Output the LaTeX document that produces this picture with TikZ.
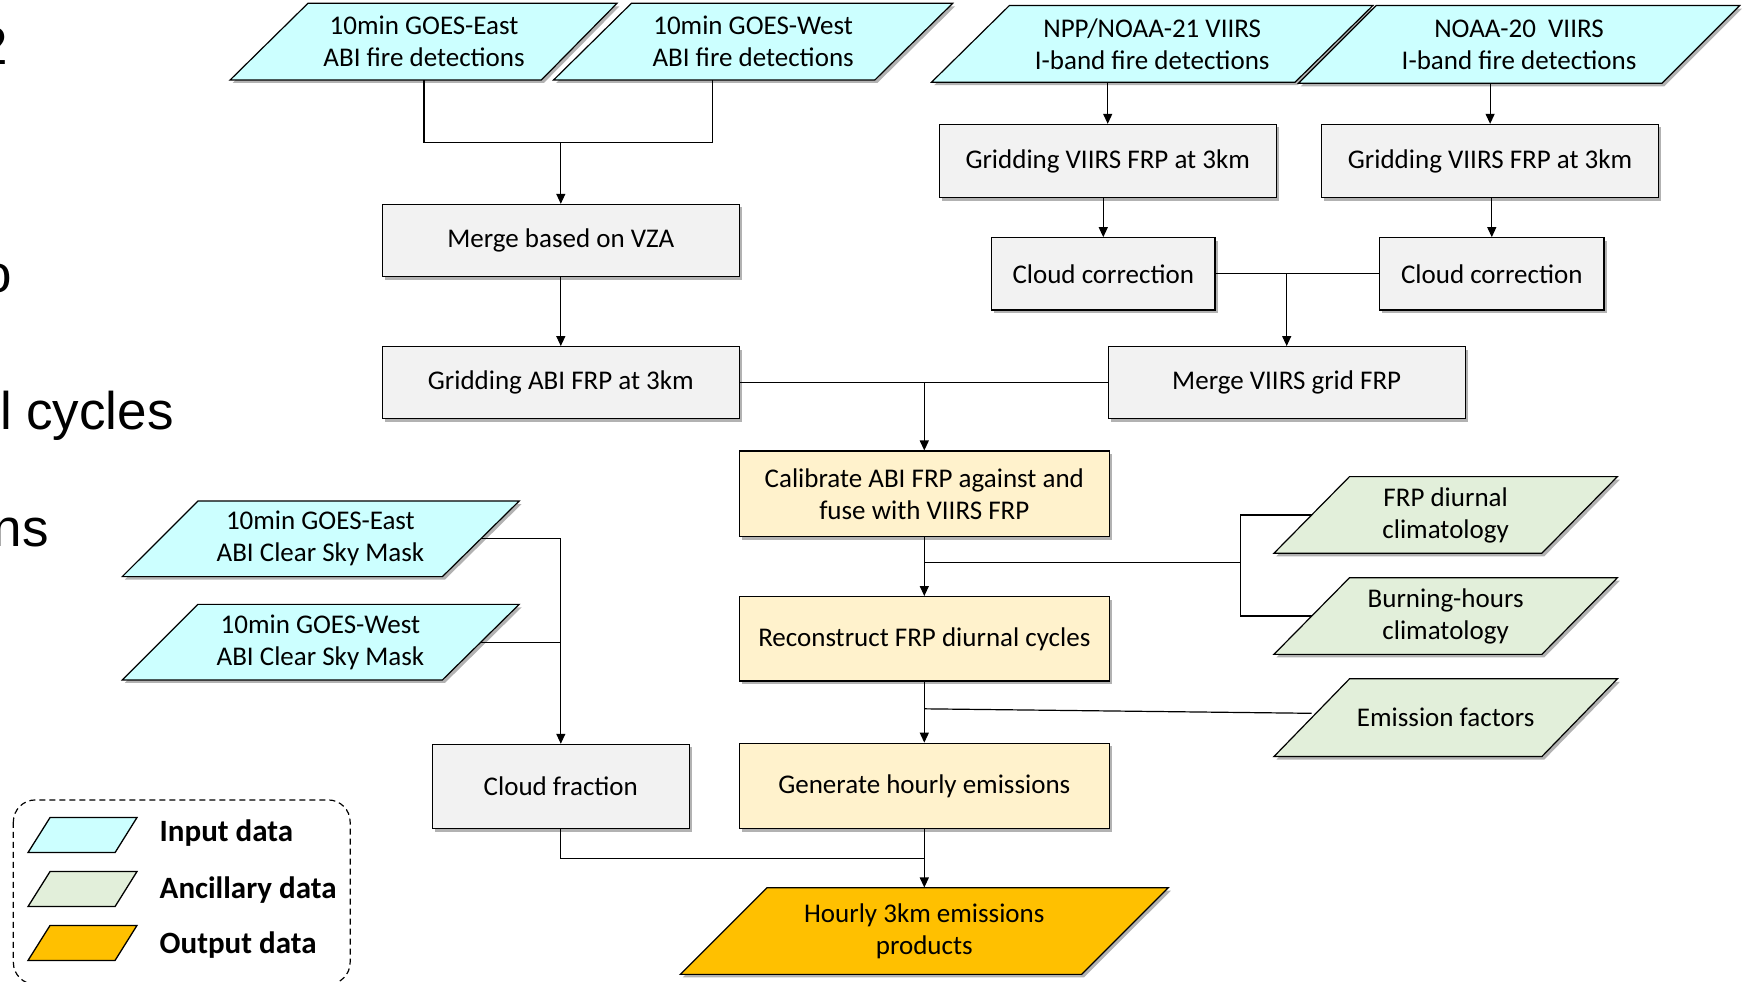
\documentclass[tikz,border=0pt]{standalone}
\usepackage{fontspec}
\setmainfont{Carlito}
\newfontfamily\arialf{Liberation Sans}
\usetikzlibrary{arrows.meta,shadows,calc}
\definecolor{inC}{HTML}{CCFFFF}
\definecolor{ancC}{HTML}{E2EFDA}
\definecolor{outC}{HTML}{FFC000}
\definecolor{procC}{HTML}{F2F2F2}
\definecolor{calC}{HTML}{FFF2CC}
\newcommand\myNodeFont{\fontsize{27}{32}\selectfont}
\newcommand\myLegFont{\bfseries\fontsize{31}{34}\selectfont}
\newcommand\myFragFont{\arialf\fontsize{53}{60}\selectfont}
\begin{document}
\begin{tikzpicture}[x=1.111607pt,y=-1.111pt,
  sz/.style 2 args={minimum width={(#1)*1.111607pt},minimum height={(#2)*1.111pt}},
  shad/.style={drop shadow={shadow xshift=2.5pt,shadow yshift=-3pt,opacity=0.3,fill=black}},
  box/.style={draw=black,line width=1.2pt,inner sep=0pt,align=center,font=\myNodeFont,shad},
  pshape/.style={draw=black,line width=1.2pt,shad},
  ptext/.style={inner sep=0pt,align=center,font=\myNodeFont},
  line/.style={draw=black,line width=1.2pt},
  arr/.style={line,-{Triangle[length=10pt,width=9pt]}},
  frag/.style={inner sep=0pt,font=\myFragFont},
  legtext/.style={inner sep=0pt,anchor=west,font=\myLegFont},
  legshape/.style={draw=black,line width=1.3pt},
  legbox/.style={draw=black,line width=1.2pt,dash pattern=on 6pt off 4pt,rounded corners=22pt}]
\useasboundingbox (0,0) rectangle (1568,883);
\clip (0,0) rectangle (1568,883);

% fragments of slide text at the left edge
\node[frag,anchor=base east] (fr1) at (7.2,58.5) {2};
\node[frag,anchor=base east] (fr2) at (10.8,263.6) {o};
\node[frag,anchor=base east] (fr3) at (156.5,386.8) {l cycles};
\node[frag,anchor=base east] (fr4) at (44,492) {ns};

% input parallelograms
\path[pshape,fill=inC] (207,72) -- (277,3) -- (555,3) -- (487,72) -- cycle;
\node[ptext,sz={279}{69}] (eFire) at (381.5,37.5) {10min GOES-East\\ABI fire detections};
\path[pshape,fill=inC] (498,72) -- (568,3) -- (857,3) -- (787,72) -- cycle;
\node[ptext,sz={289}{69}] (wFire) at (677.5,37.5) {10min GOES-West\\ABI fire detections};
\path[pshape,fill=inC] (838,74) -- (908,5) -- (1235,5) -- (1165,74) -- cycle;
\node[ptext,sz={327}{69}] (nppFire) at (1036.5,39.5) {NPP/NOAA-21 VIIRS\\I-band fire detections};
\path[pshape,fill=inC] (1168,75) -- (1238,5) -- (1565,5) -- (1495,75) -- cycle;
\node[ptext,sz={327}{70}] (n20Fire) at (1366.5,40) {NOAA-20\ \ VIIRS\\I-band fire detections};
\path[pshape,fill=inC] (110,519) -- (178,451) -- (467,451) -- (398,519) -- cycle;
\node[ptext,sz={288.5}{68}] (eCSM) at (288.25,485) {10min GOES-East\\ABI Clear Sky Mask};
\path[pshape,fill=inC] (110,612) -- (178,544) -- (467,544) -- (398,612) -- cycle;
\node[ptext,sz={288.5}{68}] (wCSM) at (288.25,578) {10min GOES-West\\ABI Clear Sky Mask};

% ancillary parallelograms
\path[pshape,fill=ancC] (1146,498) -- (1214,429) -- (1455,429) -- (1387,498) -- cycle;
\node[ptext,sz={241}{69}] (frpClim) at (1300.5,463.5) {FRP diurnal\\climatology};
\path[pshape,fill=ancC] (1146,589) -- (1214,520) -- (1455,520) -- (1387,589) -- cycle;
\node[ptext,sz={241}{69}] (burnClim) at (1300.5,554.5) {Burning-hours\\climatology};
\path[pshape,fill=ancC] (1146,681) -- (1214,611) -- (1455,611) -- (1387,681) -- cycle;
\node[ptext,sz={241}{70}] (emis) at (1300.5,646) {Emission factors};

% output
\path[pshape,fill=outC] (612,877) -- (690,799) -- (1051,799) -- (973,877) -- cycle;
\node[ptext,sz={361}{78}] (prod) at (831.5,838) {Hourly 3km emissions\\products};

% process boxes
\node[box,fill=procC,sz={321}{65}] (merge) at (504.5,216.5) {Merge based on VZA};
\node[box,fill=procC,sz={321}{65}] (gridABI) at (504.5,344.5) {Gridding ABI FRP at 3km};
\node[box,fill=procC,sz={303}{66}] (gridV1) at (996.5,145) {Gridding VIIRS FRP at 3km};
\node[box,fill=procC,sz={303}{66}] (gridV2) at (1340.5,145) {Gridding VIIRS FRP at 3km};
\node[box,fill=procC,sz={201}{65}] (cloud1) at (992.5,246.5) {Cloud correction};
\node[box,fill=procC,sz={202}{65}] (cloud2) at (1342,246.5) {Cloud correction};
\node[box,fill=procC,sz={321}{65}] (mergeV) at (1157.5,344.5) {Merge VIIRS grid FRP};
\node[box,fill=calC,sz={333}{77}] (calib) at (831.5,444.5) {Calibrate ABI FRP against and\\fuse with VIIRS FRP};
\node[box,fill=calC,sz={333}{76}] (recon) at (831.5,575) {Reconstruct FRP diurnal cycles};
\node[box,fill=calC,sz={333}{77}] (gener) at (831.5,707.5) {Generate hourly emissions};
\node[box,fill=procC,sz={231}{76}] (cfrac) at (504.5,708) {Cloud fraction};

% connectors
\coordinate (j1) at (504.5,128);
\draw[line] (eFire.south) |- (j1) -| ([xshift=-40.6pt]wFire.south);
\draw[arr] (j1) -- (merge.north);
\draw[arr] (merge.south) -- (gridABI.north);
\draw[arr] (gridV1.north |- nppFire.south) -- (gridV1.north);
\draw[arr] (gridV2.north |- n20Fire.south) -- (gridV2.north);
\draw[arr] (cloud1.north |- gridV1.south) -- (cloud1.north);
\draw[arr] (cloud2.north |- gridV2.south) -- (cloud2.north);
\draw[line] (cloud1.east) -- (cloud2.west);
\draw[arr] (mergeV.north |- cloud1.east) -- (mergeV.north);
\draw[line] (gridABI.east) -- (mergeV.west);
\draw[arr] (calib.north |- gridABI.east) -- (calib.north);
\draw[arr] (calib.south) -- (recon.north);
\coordinate (j2) at (831.5,506);
\coordinate (jv) at (1116,506);
\draw[line] (j2) -- (jv);
\draw[line] (frpClim.west) -| (jv) |- (burnClim.west);
\draw[arr] (recon.south) -- (gener.north);
\coordinate (j3) at (831.5,638);
\draw[line] (j3) -- ([yshift=4.4pt]emis.west);
\draw[arr] (gener.south) -- (prod.north);
\coordinate (j4) at (831.5,773);
\draw[line] (cfrac.south) |- (j4);
\draw[arr] (eCSM.east) -| (cfrac.north);
\draw[line] (wCSM.east) -- (wCSM.east -| cfrac.north);

% legend
\draw[legbox] (12,720) rectangle (315,886);
\path[legshape,fill=inC] (25.2,767.4) -- (45,735.9) -- (123.2,735.9) -- (103.5,767.4) -- cycle;
\path[legshape,fill=ancC] (25.2,816) -- (45,784.5) -- (123.2,784.5) -- (103.5,816) -- cycle;
\path[legshape,fill=outC] (25.2,864.5) -- (45,833) -- (123.2,833) -- (103.5,864.5) -- cycle;
\node[legtext] (lIn) at (143.5,749.4) {Input data};
\node[legtext] (lAnc) at (143.5,800.7) {Ancillary data};
\node[legtext] (lOut) at (143.5,850.2) {Output data};
\end{tikzpicture}
\end{document}
